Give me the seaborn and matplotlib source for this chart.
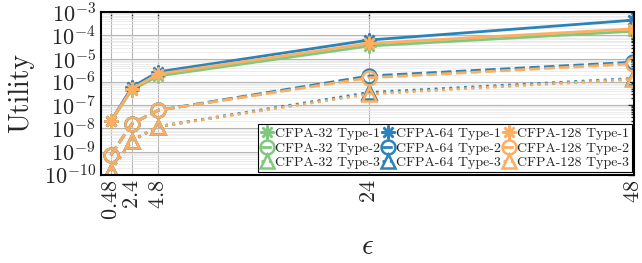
import numpy as np
import pandas as pd
import seaborn as sns
import matplotlib.pyplot as plt
from matplotlib.ticker import FixedLocator, LogLocator, NullFormatter

# epsilon values on the x axis
eps = [0.48, 2.4, 4.8, 24, 48]

# utility values
cfpa32_t1 = [2.0e-8, 4.5e-7, 1.8e-6, 3.5e-5, 1.5e-4]
cfpa64_t1 = [2.0e-8, 6.0e-7, 2.7e-6, 6.3e-5, 4.5e-4]
cfpa128_t1 = [2.0e-8, 5.0e-7, 2.2e-6, 4.5e-5, 1.9e-4]
cfpa32_t2 = [7.0e-10, 1.6e-8, 6.0e-8, 1.6e-6, 6.5e-6]
cfpa64_t2 = [7.0e-10, 1.6e-8, 6.0e-8, 1.8e-6, 7.0e-6]
cfpa128_t2 = [7.0e-10, 1.6e-8, 6.0e-8, 1.5e-6, 6.0e-6]
cfpa32_t3 = [1.5e-10, 3.0e-9, 1.2e-8, 3.2e-7, 1.3e-6]
cfpa64_t3 = [1.5e-10, 3.0e-9, 1.2e-8, 3.5e-7, 1.4e-6]
cfpa128_t3 = [1.5e-10, 3.0e-9, 1.2e-8, 3.0e-7, 1.3e-6]

sns.set_style("whitegrid")
plt.rcParams['font.family'] = ['cmr10', 'DejaVu Serif']
plt.rcParams['mathtext.fontset'] = 'cm'
plt.rcParams['axes.formatter.use_mathtext'] = True

colors = {"CFPA-32": "#7fc97f", "CFPA-64": "#2b83ba", "CFPA-128": "#fdae61"}
series = {
    "CFPA-32": [cfpa32_t1, cfpa32_t2, cfpa32_t3],
    "CFPA-64": [cfpa64_t1, cfpa64_t2, cfpa64_t3],
    "CFPA-128": [cfpa128_t1, cfpa128_t2, cfpa128_t3],
}
markers = [(8, 2, 0), "o", "^"]
styles = ["-", "--", ":"]

fig = plt.figure(figsize=(6.42, 2.63), dpi=100)
ax = fig.add_axes([0.157, 0.335, 0.831, 0.619])

handles = []
labels = []
for name, vals in series.items():
    for i, v in enumerate(vals):
        df = pd.DataFrame({"eps": eps, "util": v})
        sns.lineplot(data=df, x="eps", y="util", ax=ax, color=colors[name],
                     marker=markers[i], linestyle=styles[i], linewidth=2,
                     markersize=10, markerfacecolor="none",
                     markeredgecolor=colors[name], markeredgewidth=1.8)
        handles.append(ax.lines[-1])
        labels.append(f"{name} Type-{i + 1}")

ax.set_yscale("log")
ax.set_ylim(1e-10, 1e-3)
ax.set_xlim(-0.43, 48.1)
ax.set_xticks(eps)
ax.set_xticklabels(["$0.48$", "$2.4$", "$4.8$", "$24$", "$48$"], rotation=90, fontsize=16)
ax.yaxis.set_major_locator(FixedLocator([10.0 ** k for k in range(-10, -2)]))
ax.yaxis.set_minor_locator(LogLocator(base=10, subs=np.arange(2, 10), numticks=20))
ax.yaxis.set_minor_formatter(NullFormatter())
ax.tick_params(axis="y", labelsize=16)
ax.tick_params(which="both", direction="in", top=True, right=True, length=4, width=1)
ax.tick_params(which="minor", length=2)

ax.grid(which="minor", axis="y", color="#e6e6e6", linewidth=0.5)
ax.grid(which="major", color="#b5b5b5", linewidth=0.8)
ax.set_axisbelow(True)
for s in ax.spines.values():
    s.set_color("black")
    s.set_linewidth(1.5)

ax.set_xlabel(r"$\epsilon$", fontsize=21)
ax.set_ylabel("Utility", fontsize=20)
ax.xaxis.set_label_coords(0.5, -0.36)
ax.yaxis.set_label_coords(-0.125, 0.5)

leg = ax.legend(handles, labels, ncol=3, loc="lower right", bbox_to_anchor=(1.0, 0.0),
                fontsize=10, handlelength=0.9, handletextpad=0.1, columnspacing=0.15,
                labelspacing=0.15, borderpad=0.2, borderaxespad=0.2, fancybox=False,
                framealpha=1, edgecolor="black")
leg.get_frame().set_linewidth(0.8)

fig.savefig("out.png", dpi=100)
